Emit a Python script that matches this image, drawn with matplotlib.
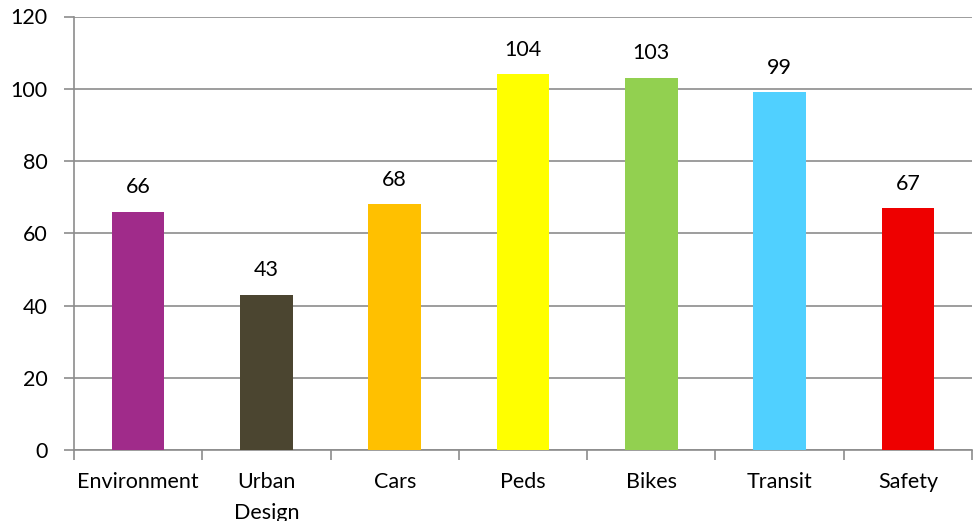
import numpy as np
import matplotlib.pyplot as plt

categories = ["Environment", "Urban\nDesign", "Cars", "Peds", "Bikes", "Transit", "Safety"]
values = [66, 43, 68, 104, 103, 99, 67]
colors = ["#A02B8A", "#4B4530", "#FFC000", "#FFFF00", "#92D050", "#50D0FF", "#EE0000"]

plt.rcParams['font.family'] = ['Lato', 'DejaVu Sans']
fs = 15.5

fig = plt.figure(figsize=(9.74, 5.21), dpi=100)
ax = fig.add_axes([74 / 974, 1 - 450 / 521, (972 - 74) / 974, (450 - 16.5) / 521])

x = np.arange(len(categories))
ax.bar(x, values, width=0.41, color=colors, zorder=3)
for xi, v in zip(x, values):
    ax.text(xi, v + 4, str(v), ha='center', va='bottom', fontsize=fs, color='black')

ax.set_xlim(-0.5, len(categories) - 0.5)
ax.set_ylim(0, 120)
ax.set_yticks(np.arange(0, 121, 20))
ax.yaxis.grid(True, color='#8C8C8C', linewidth=1.2, zorder=0)

ax.set_xticks(x)
ax.set_xticklabels(categories, fontsize=fs, linespacing=1.65)
ax.set_xticks(np.arange(-0.5, len(categories)), minor=True)
ax.tick_params(axis='x', which='major', length=0, pad=16)
ax.tick_params(axis='x', which='minor', length=7, width=1.2, color='#8C8C8C')
ax.tick_params(axis='y', length=7, width=1.2, color='#8C8C8C', labelsize=fs, pad=12)

for s in ['top', 'right']:
    ax.spines[s].set_visible(False)
for s in ['left', 'bottom']:
    ax.spines[s].set_color('#8C8C8C')
    ax.spines[s].set_linewidth(1.2)

fig.savefig("out.png", dpi=100)
